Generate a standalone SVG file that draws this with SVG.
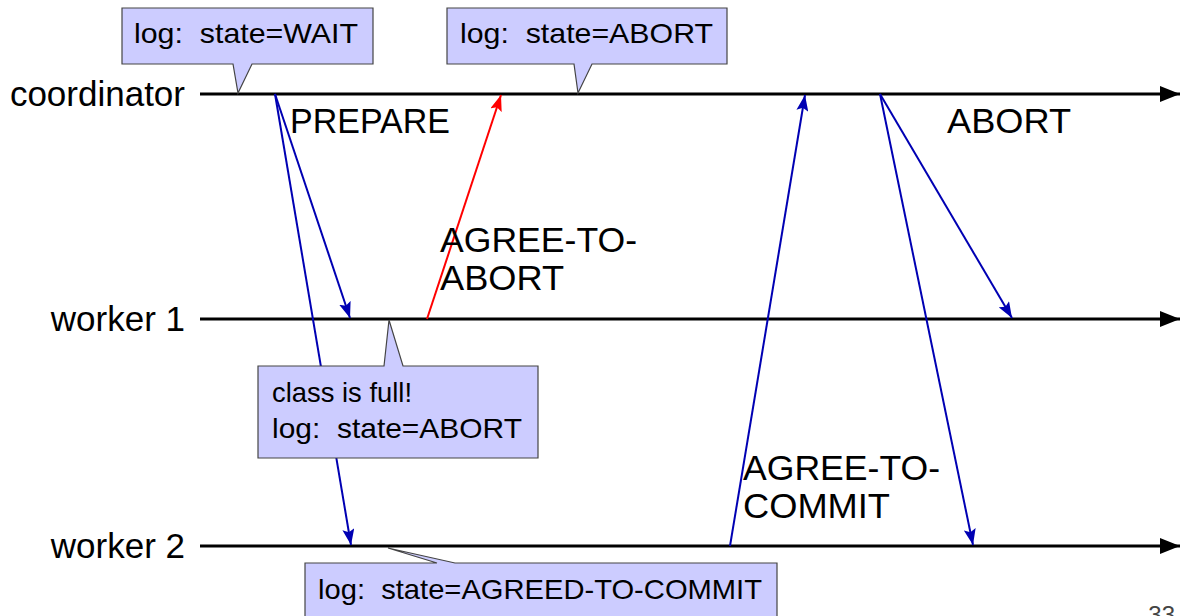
<svg xmlns="http://www.w3.org/2000/svg" width="1180" height="616" viewBox="0 0 1180 616">
  <style>
    .lbl { font-family: "Liberation Sans", Arial, sans-serif; font-size: 35px; fill: #000; }
    .big { font-family: "Liberation Sans", Arial, sans-serif; font-size: 35px; fill: #000; }
    .note { font-family: "Liberation Sans", Arial, sans-serif; font-size: 28px; fill: #000; white-space: pre; }
    .box { fill: #ccccff; stroke: #444; stroke-width: 1.2; }
    .time { stroke: #000; stroke-width: 3; fill: none; }
    .msg { stroke: #0000b3; stroke-width: 2; fill: none; }
    .msg-red { stroke: #ff0000; stroke-width: 2; fill: none; }
  </style>
  <defs>
    <marker id="timehead" viewBox="0 0 20 16" refX="20" refY="8" markerWidth="20" markerHeight="16" markerUnits="userSpaceOnUse" orient="auto">
      <path d="M0,0 L20,8 L0,16 z" fill="#000"/>
    </marker>
    <marker id="bluehead" viewBox="0 0 16 12" refX="16" refY="6" markerWidth="16" markerHeight="12" markerUnits="userSpaceOnUse" orient="auto">
      <path d="M0,0 L16,6 L0,12 L3,6 z" fill="#0000b3"/>
    </marker>
    <marker id="redhead" viewBox="0 0 16 12" refX="16" refY="6" markerWidth="16" markerHeight="12" markerUnits="userSpaceOnUse" orient="auto">
      <path d="M0,0 L16,6 L0,12 L3,6 z" fill="#ff0000"/>
    </marker>
  </defs>

  <!-- process timelines -->
  <g id="coordinator">
    <text class="lbl" x="185" y="106" text-anchor="end">coordinator</text>
    <line class="time" x1="200" y1="94" x2="1180" y2="94" marker-end="url(#timehead)"/>
  </g>
  <g id="worker1">
    <text class="lbl" x="185" y="331" text-anchor="end">worker 1</text>
    <line class="time" x1="200" y1="319" x2="1180" y2="319" marker-end="url(#timehead)"/>
  </g>
  <g id="worker2">
    <text class="lbl" x="185" y="558" text-anchor="end">worker 2</text>
    <line class="time" x1="200" y1="546" x2="1180" y2="546" marker-end="url(#timehead)"/>
  </g>

  <!-- messages -->
  <g id="connectors">
    <line class="msg" x1="275" y1="94" x2="350" y2="318" marker-end="url(#bluehead)"/>
    <line class="msg" x1="275" y1="94" x2="351" y2="545" marker-end="url(#bluehead)"/>
    <line class="msg-red" x1="427" y1="319" x2="501" y2="95" marker-end="url(#redhead)"/>
    <line class="msg" x1="730" y1="546" x2="805" y2="95" marker-end="url(#bluehead)"/>
    <line class="msg" x1="880" y1="94" x2="1012" y2="318" marker-end="url(#bluehead)"/>
    <line class="msg" x1="880" y1="94" x2="973" y2="545" marker-end="url(#bluehead)"/>
  </g>

  <!-- message labels -->
  <g id="label-prepare"><text class="big" x="290" y="133" textLength="160" lengthAdjust="spacingAndGlyphs">PREPARE</text></g>
  <g id="label-abort"><text class="big" x="947" y="133" textLength="124" lengthAdjust="spacingAndGlyphs">ABORT</text></g>
  <g id="label-agree-abort">
    <text class="big" x="440" y="252" textLength="197" lengthAdjust="spacingAndGlyphs">AGREE-TO-</text>
    <text class="big" x="440" y="290" textLength="124" lengthAdjust="spacingAndGlyphs">ABORT</text>
  </g>
  <g id="label-agree-commit">
    <text class="big" x="743" y="480" textLength="197" lengthAdjust="spacingAndGlyphs">AGREE-TO-</text>
    <text class="big" x="743" y="518" textLength="147" lengthAdjust="spacingAndGlyphs">COMMIT</text>
  </g>

  <!-- log callouts -->
  <g id="note-wait">
    <path class="box" d="M122,8 H373 V64 H252 L238,93 L233,64 H122 Z"/>
    <text class="note" x="134" y="43" textLength="224" lengthAdjust="spacingAndGlyphs">log:  state=WAIT</text>
  </g>
  <g id="note-coord-abort">
    <path class="box" d="M447,8 H727 V64 H592 L578,93 L574,64 H447 Z"/>
    <text class="note" x="460" y="43" textLength="253" lengthAdjust="spacingAndGlyphs">log:  state=ABORT</text>
  </g>
  <g id="note-w1-abort">
    <path class="box" d="M258,366 H384 L389,320 L403,366 H538 V458 H258 Z"/>
    <text class="note" x="272" y="402" textLength="140" lengthAdjust="spacingAndGlyphs">class is full!</text>
    <text class="note" x="272" y="438" textLength="250" lengthAdjust="spacingAndGlyphs">log:  state=ABORT</text>
  </g>
  <g id="note-w2-commit">
    <path class="box" d="M305,563 H437 L388,548 L455,563 H777 V630 H305 Z"/>
    <text class="note" x="318" y="599" textLength="444" lengthAdjust="spacingAndGlyphs">log:  state=AGREED-TO-COMMIT</text>
  </g>

  <!-- slide number, partly below the bottom edge -->
  <text class="note" x="1175" y="623" text-anchor="end" style="font-size:24px;fill:#444">33</text>
</svg>
